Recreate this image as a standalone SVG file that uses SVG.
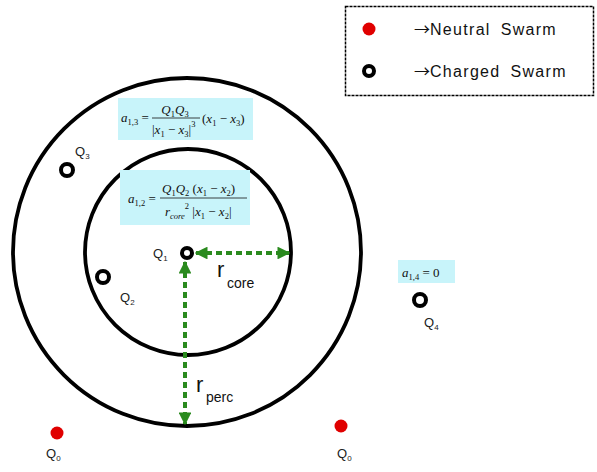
<svg xmlns="http://www.w3.org/2000/svg" width="597" height="472" viewBox="0 0 597 472">
  <style>
    .ring { fill: none; stroke: #000; stroke-width: 3.8; }
    .charged { fill: #fff; stroke: #000; stroke-width: 4; }
    .neutral { fill: #e00000; }
    .lbl { font-family: "Liberation Sans", Arial, sans-serif; font-size: 13px; fill: #222; }
    .sub { font-size: 8px; }
    .legend { font-family: "Liberation Sans", Arial, sans-serif; font-size: 16px; fill: #111; letter-spacing: 1.3px; }
    .arr { font-family: "Noto Sans CJK JP", "DejaVu Sans", sans-serif; font-size: 16px; letter-spacing: 0; }
    .eqbox { fill: #c8f4fa; }
    .eq { font-family: "Liberation Serif", "Times New Roman", serif; font-size: 13px; fill: #111; }
    .eqs { font-size: 8.5px; }
    .arrow { stroke: #2a8a1e; stroke-width: 4; stroke-dasharray: 6 4; fill: none; }
    .rl { font-family: "Liberation Sans", Arial, sans-serif; fill: #111; }
  </style>
  <defs>
    <marker id="ah" viewBox="0 0 10 10" refX="9" refY="5" markerWidth="3.2" markerHeight="3.2" orient="auto-start-reverse" markerUnits="strokeWidth">
      <path d="M0,0 L10,5 L0,10 z" fill="#2a8a1e"/>
    </marker>
  </defs>
  <rect width="597" height="472" fill="#fff"/>

  <!-- legend -->
  <g id="legend">
    <rect x="345.5" y="6.5" width="248" height="89" fill="#fff" stroke="#000" stroke-width="1.5" stroke-dasharray="3 1"/>
    <circle cx="369" cy="29" r="6.5" class="neutral"/>
    <text x="414" y="35" class="legend"><tspan class="arr">→</tspan>Neutral<tspan dx="10">Swarm</tspan></text>
    <circle cx="369" cy="71" r="5" class="charged"/>
    <text x="414" y="77" class="legend"><tspan class="arr">→</tspan>Charged<tspan dx="10">Swarm</tspan></text>
  </g>

  <!-- percolation and core radii -->
  <g id="rings">
    <circle cx="187" cy="252" r="174" class="ring"/>
    <circle cx="188" cy="252" r="103" class="ring"/>
  </g>

  <!-- interaction formulas -->
  <g id="eq13">
    <rect x="118" y="98" width="135" height="42" class="eqbox"/>
    <text x="121" y="122" class="eq"><tspan font-style="italic">a</tspan><tspan class="eqs" dy="3">1,3</tspan><tspan dy="-3"> =</tspan></text>
    <text x="175" y="114" class="eq" text-anchor="middle"><tspan font-style="italic">Q</tspan><tspan class="eqs" dy="3">1</tspan><tspan dy="-3" font-style="italic">Q</tspan><tspan class="eqs" dy="3">3</tspan></text>
    <line x1="152" y1="118" x2="200" y2="118" stroke="#111" stroke-width="0.8"/>
    <text x="152" y="134" class="eq">|<tspan font-style="italic">x</tspan><tspan class="eqs" dy="3">1</tspan><tspan dy="-3"> − </tspan><tspan font-style="italic">x</tspan><tspan class="eqs" dy="3">3</tspan><tspan dy="-3">|</tspan><tspan class="eqs" dy="-7">3</tspan></text>
    <text x="202" y="123" class="eq">(<tspan font-style="italic">x</tspan><tspan class="eqs" dy="3">1</tspan><tspan dy="-3"> − </tspan><tspan font-style="italic">x</tspan><tspan class="eqs" dy="3">3</tspan><tspan dy="-3">)</tspan></text>
  </g>
  <g id="eq12">
    <rect x="120" y="170" width="130" height="55" class="eqbox"/>
    <text x="128" y="203" class="eq"><tspan font-style="italic">a</tspan><tspan class="eqs" dy="3">1,2</tspan><tspan dy="-3"> =</tspan></text>
    <text x="162" y="193" class="eq"><tspan font-style="italic">Q</tspan><tspan class="eqs" dy="3">1</tspan><tspan dy="-3" font-style="italic">Q</tspan><tspan class="eqs" dy="3">2</tspan><tspan dy="-3"> (</tspan><tspan font-style="italic">x</tspan><tspan class="eqs" dy="3">1</tspan><tspan dy="-3"> − </tspan><tspan font-style="italic">x</tspan><tspan class="eqs" dy="3">2</tspan><tspan dy="-3">)</tspan></text>
    <line x1="160" y1="198" x2="247" y2="198" stroke="#111" stroke-width="0.8"/>
    <text x="165" y="216" class="eq"><tspan font-style="italic">r</tspan><tspan class="eqs" dy="3" font-style="italic">core</tspan><tspan class="eqs" dy="-10">2</tspan><tspan dy="7"> |</tspan><tspan font-style="italic">x</tspan><tspan class="eqs" dy="3">1</tspan><tspan dy="-3"> − </tspan><tspan font-style="italic">x</tspan><tspan class="eqs" dy="3">2</tspan><tspan dy="-3">|</tspan></text>
  </g>
  <g id="eq14">
    <rect x="398" y="260" width="57" height="23" class="eqbox"/>
    <text x="402" y="277" class="eq"><tspan font-style="italic">a</tspan><tspan class="eqs" dy="3">1,4</tspan><tspan dy="-3"> = 0</tspan></text>
  </g>

  <!-- radius arrows -->
  <g id="connectors">
    <line x1="196" y1="253" x2="289" y2="253" class="arrow" marker-start="url(#ah)" marker-end="url(#ah)"/>
    <line x1="185" y1="262" x2="185" y2="424" class="arrow" marker-start="url(#ah)" marker-end="url(#ah)"/>
  </g>
  <g id="r-labels">
    <text x="217" y="277" class="rl" font-size="22">r</text>
    <text x="227" y="288" class="rl" font-size="14">core</text>
    <text x="196" y="392" class="rl" font-size="22">r</text>
    <text x="206" y="402" class="rl" font-size="14">perc</text>
  </g>

  <!-- swarm members -->
  <g id="Q1">
    <circle cx="187" cy="253" r="5" class="charged"/>
    <text x="153" y="258" class="lbl">Q<tspan class="sub" dy="3">1</tspan></text>
  </g>
  <g id="Q2">
    <circle cx="103" cy="277" r="6" class="charged"/>
    <text x="120" y="302" class="lbl">Q<tspan class="sub" dy="3">2</tspan></text>
  </g>
  <g id="Q3">
    <circle cx="67" cy="170" r="6" class="charged"/>
    <text x="75" y="156" class="lbl">Q<tspan class="sub" dy="3">3</tspan></text>
  </g>
  <g id="Q4">
    <circle cx="420" cy="300" r="6" class="charged"/>
    <text x="424" y="327" class="lbl">Q<tspan class="sub" dy="3">4</tspan></text>
  </g>
  <g id="Q0a">
    <circle cx="57" cy="433" r="6.5" class="neutral"/>
    <text x="46" y="458" class="lbl">Q<tspan class="sub" dy="3">0</tspan></text>
  </g>
  <g id="Q0b">
    <circle cx="341" cy="426" r="6.5" class="neutral"/>
    <text x="337" y="458" class="lbl">Q<tspan class="sub" dy="3">0</tspan></text>
  </g>
</svg>
